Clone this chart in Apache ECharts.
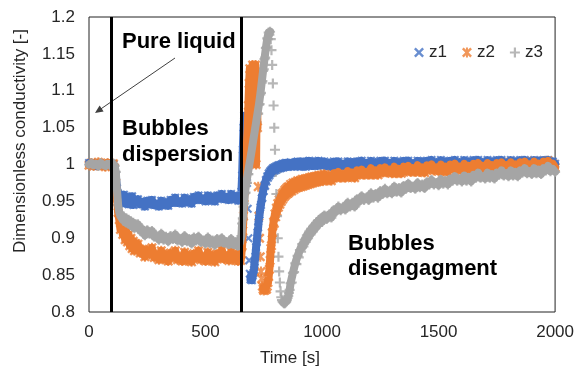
<!DOCTYPE html>
<html><head><meta charset="utf-8">
<script src="https://cdn.jsdelivr.net/npm/echarts@6/dist/echarts.min.js"></script>
<style>html,body{margin:0;padding:0;background:#fff}#c{width:577px;height:376px}</style>
</head><body><div id="c"></div>
<script>
// ---- data ----
const seriesNames = ['z1', 'z2', 'z3'];
const phaseLines = [97, 655];               // vertical phase boundaries [s]
const xTicks = [0, 500, 1000, 1500, 2000];
const yTicks = [0.8, 0.85, 0.9, 0.95, 1, 1.05, 1.1, 1.15, 1.2];

const time = [
  0,10,20,30,40,50,60,70,80,90,100,
  105,110,115,120,125,130,135,140,145,150,
  155,160,165,170,175,180,185,190,195,200,
  210,220,230,240,250,260,270,280,290,300,310,
  320,330,340,350,360,370,380,390,400,410,420,
  430,440,450,460,470,480,490,500,510,520,530,
  540,550,560,570,580,590,600,610,620,630,640,
  648,651,654,657,660,663,666,669,672,675,678,681,
  684,687,690,693,696,699,702,705,708,711,714,717,
  720,723,726,729,732,735,738,741,744,747,750,753,
  756,759,762,765,768,771,774,777,780,783,786,789,
  792,795,798,801,804,807,810,813,816,819,822,825,
  828,831,834,837,840,843,846,849,852,855,858,861,
  865,870,875,880,885,890,895,900,905,910,915,920,925,930,
  935,940,945,950,955,960,965,970,975,980,985,990,995,1000,
  1010,1020,1030,1040,1050,1060,1070,1080,1090,1100,
  1110,1120,1130,1140,1150,1160,1170,1180,1190,1200,
  1210,1220,1230,1240,1250,1260,1270,1280,1290,1300,
  1310,1320,1330,1340,1350,1360,1370,1380,1390,1400,
  1410,1420,1430,1440,1450,1460,1470,1480,1490,1500,
  1510,1520,1530,1540,1550,1560,1570,1580,1590,1600,
  1610,1620,1630,1640,1650,1660,1670,1680,1690,1700,
  1710,1720,1730,1740,1750,1760,1770,1780,1790,1800,
  1810,1820,1830,1840,1850,1860,1870,1880,1890,1900,
  1910,1920,1930,1940,1950,1960,1970,1980,1990,2000
];

const z1 = [
  1.002,0.999,1.001,0.998,1.002,1.000,1.001,0.998,1.000,0.999,1.001,
  1.000,0.996,0.985,0.968,0.960,0.950,0.958,0.948,0.955,0.959,
  0.947,0.953,0.956,0.946,0.954,0.950,0.957,0.945,0.952,0.949,
  0.953,0.946,0.949,0.943,0.951,0.946,0.952,0.945,0.947,0.943,0.951,
  0.945,0.949,0.944,0.952,0.948,0.955,0.948,0.950,0.947,0.955,0.949,
  0.953,0.947,0.956,0.952,0.958,0.952,0.954,0.950,0.958,0.951,0.956,
  0.950,0.958,0.954,0.960,0.953,0.956,0.952,0.960,0.953,0.957,0.951,
  0.958,0.953,0.963,0.985,1.020,1.050,1.066,1.035,1.060,1.015,0.975,0.940,
  0.900,0.870,0.852,0.844,0.850,0.843,0.849,0.853,0.857,0.868,0.875,0.888,
  0.895,0.908,0.915,0.927,0.932,0.942,0.945,0.954,0.955,0.964,0.964,0.972,
  0.971,0.979,0.977,0.984,0.982,0.988,0.985,0.991,0.988,0.993,0.990,0.995,
  0.991,0.996,0.992,0.997,0.993,0.998,0.994,0.999,0.995,0.999,0.995,1.000,
  0.996,1.001,0.996,1.001,0.997,1.002,0.997,1.002,0.997,1.002,0.998,1.002,
  1.003,0.998,1.002,0.997,1.003,0.999,1.004,0.998,1.001,0.997,1.004,0.999,1.002,0.997,
  1.004,0.999,1.005,0.999,1.002,0.998,1.004,1.000,1.003,0.998,1.005,1.000,1.003,0.999,
  1.004,0.998,1.002,0.997,1.004,0.999,1.004,0.998,1.001,0.998,
  1.004,0.999,1.003,0.998,1.004,1.000,1.005,0.999,1.002,0.998,
  1.005,0.999,1.003,0.998,1.005,1.000,1.005,0.999,1.002,0.999,
  1.005,1.000,1.003,0.998,1.005,1.001,1.005,1.000,1.002,0.999,
  1.005,1.000,1.004,0.999,1.005,1.001,1.006,1.000,1.003,0.999,
  1.006,1.000,1.004,0.999,1.005,1.001,1.006,1.000,1.003,0.999,
  1.006,1.000,1.004,0.999,1.006,1.001,1.006,1.000,1.003,1.000,
  1.006,1.001,1.004,0.999,1.006,1.001,1.006,1.001,1.003,1.000,
  1.006,1.001,1.004,1.000,1.006,1.002,1.006,1.001,1.004,1.000,
  1.006,1.001,1.005,1.000,1.006,1.002,1.006,1.001,1.004,1.001
];

const z2 = [
  0.999,1.002,0.998,1.001,1.003,0.999,1.001,0.997,1.002,1.000,0.998,
  1.001,0.995,0.975,0.955,0.935,0.925,0.912,0.920,0.905,0.915,
  0.898,0.910,0.895,0.905,0.890,0.900,0.886,0.896,0.883,0.893,
  0.892,0.880,0.885,0.875,0.884,0.878,0.887,0.874,0.878,0.871,0.883,
  0.872,0.878,0.869,0.880,0.874,0.883,0.871,0.875,0.869,0.881,0.870,
  0.877,0.868,0.879,0.873,0.883,0.871,0.875,0.869,0.881,0.870,0.877,
  0.868,0.879,0.873,0.884,0.872,0.876,0.870,0.882,0.871,0.878,0.869,
  0.877,0.870,0.879,0.890,0.910,0.930,0.955,0.975,0.990,1.010,1.030,1.050,
  1.080,1.110,1.130,1.090,1.125,1.060,1.135,1.020,1.130,1.080,1.135,1.000,
  1.120,1.050,0.970,0.930,0.900,0.875,0.855,0.845,0.835,0.831,0.829,0.832,
  0.830,0.833,0.831,0.835,0.840,0.848,0.858,0.870,0.886,0.890,0.907,0.908,
  0.922,0.920,0.933,0.929,0.941,0.936,0.947,0.942,0.952,0.946,0.956,0.950,
  0.960,0.953,0.962,0.956,0.965,0.958,0.967,0.960,0.969,0.961,0.970,0.963,
  0.973,0.964,0.975,0.966,0.976,0.968,0.978,0.969,0.978,0.970,0.980,0.971,0.980,0.972,
  0.981,0.973,0.982,0.974,0.983,0.975,0.983,0.976,0.984,0.977,0.985,0.977,0.985,0.978,
  0.987,0.978,0.985,0.978,0.988,0.982,0.990,0.982,0.987,0.982,
  0.991,0.983,0.989,0.982,0.992,0.986,0.993,0.986,0.990,0.986,
  0.995,0.986,0.992,0.986,0.995,0.989,0.996,0.989,0.993,0.988,
  0.997,0.988,0.994,0.988,0.997,0.991,0.998,0.990,0.995,0.990,
  0.999,0.990,0.996,0.989,0.999,0.993,1.000,0.992,0.996,0.991,
  1.000,0.991,0.997,0.990,1.000,0.994,1.001,0.993,0.997,0.992,
  1.001,0.992,0.998,0.991,1.001,0.995,1.002,0.994,0.998,0.993,
  1.002,0.993,0.999,0.992,1.002,0.996,1.003,0.995,0.999,0.994,
  1.003,0.994,1.000,0.993,1.003,0.997,1.004,0.996,1.000,0.995,
  1.004,0.995,1.001,0.994,1.004,0.998,1.005,0.997,1.001,0.996
];

const z3 = [
  1.000,1.002,0.999,1.001,0.998,1.002,1.000,0.998,1.001,0.999,1.002,
  1.000,0.998,0.990,0.965,0.945,0.935,0.930,0.930,0.925,0.929,
  0.922,0.927,0.920,0.925,0.918,0.923,0.916,0.921,0.914,0.919,
  0.919,0.910,0.912,0.904,0.911,0.906,0.910,0.902,0.903,0.898,0.906,
  0.898,0.902,0.896,0.903,0.899,0.905,0.897,0.899,0.895,0.903,0.896,
  0.899,0.893,0.901,0.897,0.902,0.895,0.897,0.893,0.901,0.893,0.897,
  0.891,0.899,0.894,0.900,0.893,0.895,0.891,0.899,0.891,0.895,0.889,
  0.894,0.899,0.903,0.920,0.927,0.943,0.947,0.961,0.962,0.975,0.975,0.987,
  0.987,0.998,0.997,1.009,1.009,1.021,1.021,1.033,1.033,1.045,1.045,1.057,
  1.057,1.069,1.069,1.081,1.082,1.095,1.097,1.111,1.113,1.127,1.129,1.143,
  1.145,1.158,1.159,1.171,1.170,1.179,1.176,1.180,1.170,1.155,1.135,1.110,
  1.080,1.050,1.020,0.990,0.960,0.930,0.900,0.875,0.855,0.840,0.828,0.820,
  0.816,0.814,0.813,0.812,0.812,0.813,0.814,0.816,0.819,0.822,0.826,0.830,
  0.839,0.840,0.853,0.854,0.866,0.865,0.876,0.874,0.884,0.882,0.892,0.889,0.898,0.895,
  0.904,0.900,0.909,0.905,0.913,0.909,0.917,0.913,0.921,0.917,0.924,0.920,0.927,0.922,
  0.931,0.926,0.932,0.928,0.938,0.936,0.943,0.938,0.942,0.939,
  0.948,0.943,0.948,0.943,0.953,0.950,0.957,0.952,0.955,0.952,
  0.961,0.955,0.960,0.955,0.964,0.960,0.967,0.961,0.964,0.961,
  0.970,0.963,0.968,0.962,0.971,0.967,0.974,0.968,0.970,0.967,
  0.975,0.969,0.973,0.968,0.976,0.973,0.979,0.973,0.975,0.972,
  0.980,0.974,0.978,0.973,0.981,0.978,0.984,0.978,0.980,0.977,
  0.985,0.978,0.983,0.977,0.986,0.982,0.989,0.982,0.984,0.981,
  0.989,0.982,0.987,0.981,0.989,0.986,0.992,0.985,0.988,0.984,
  0.992,0.985,0.990,0.984,0.992,0.989,0.995,0.988,0.991,0.987,
  0.995,0.988,0.993,0.987,0.995,0.992,0.998,0.991,0.994,0.990
];

// ---- chart ----
const FONT = '"Liberation Sans", Arial, sans-serif';
const colors = ['#4472C4', '#ED7D31', '#A5A5A5'];
const symX = 'path://M0,1.7L1.7,0L5,3.3L8.3,0L10,1.7L6.7,5L10,8.3L8.3,10L5,6.7L1.7,10L0,8.3L3.3,5Z';
const symStar = 'path://M0,1.7L1.7,0L5,3.3L8.3,0L10,1.7L6.7,5L10,8.3L8.3,10L5,6.7L1.7,10L0,8.3L3.3,5ZM4,0H6V10H4Z';
const symPlus = 'path://M3.9,0H6.1V3.9H10V6.1H6.1V10H3.9V6.1H0V3.9H3.9Z';
const symbols = [symX, symStar, symPlus];
const sizes = [9, 10, 10];
const values = [z1, z2, z3];
// time windows where samples were sparse (fast jumps) - drawn as separate markers only
const sparseWindows = [[670, 692], [723, 745], [778, 832]];

const series = [];
seriesNames.forEach((name, k) => {
  const pts = time.map((t, i) => [t, values[k][i]]);
  const w = sparseWindows[k];
  // dense band (many overlapping samples) rendered as a thick stroke through the same points
  series.push({
    name: name + '_band', type: 'line', silent: true, symbol: 'none', smooth: false,
    data: pts.map(p => (p[0] > w[0] && p[0] < w[1]) ? [p[0], null] : p),
    connectNulls: false,
    lineStyle: { color: colors[k], width: 8, join: 'round', cap: 'round' },
    emphasis: { disabled: true }, tooltip: { show: false }
  });
  series.push({
    name, type: 'scatter',
    data: pts,
    symbol: symbols[k], symbolSize: sizes[k],
    itemStyle: { color: colors[k] },
    emphasis: { disabled: true },
    silent: true
  });
});
series[1].markLine = {
  silent: true, symbol: 'none',
  label: { show: false },
  lineStyle: { color: '#000', width: 3, type: 'solid' },
  data: phaseLines.map(v => ({ xAxis: v }))
};

const graphics = [
  { type: 'text', x: 122, y: 42, style: { text: 'Pure liquid', font: 'bold 22px ' + FONT, fill: '#000', align: 'left', verticalAlign: 'middle' } },
  { type: 'text', x: 122, y: 129, style: { text: 'Bubbles', font: 'bold 22px ' + FONT, fill: '#000', align: 'left', verticalAlign: 'middle' } },
  { type: 'text', x: 122, y: 155, style: { text: 'dispersion', font: 'bold 22px ' + FONT, fill: '#000', align: 'left', verticalAlign: 'middle' } },
  { type: 'text', x: 348, y: 244, style: { text: 'Bubbles', font: 'bold 22px ' + FONT, fill: '#000', align: 'left', verticalAlign: 'middle' } },
  { type: 'text', x: 348, y: 269, style: { text: 'disengagment', font: 'bold 22px ' + FONT, fill: '#000', align: 'left', verticalAlign: 'middle' } },
  { type: 'line', shape: { x1: 175, y1: 58, x2: 100, y2: 109.5 }, style: { stroke: '#404040', lineWidth: 1 } },
  { type: 'polygon', shape: { points: [[95, 113], [103.6, 111.4], [99.6, 105.6]] }, style: { fill: '#404040' } },
  { type: 'text', x: 20, y: 141, rotation: Math.PI / 2, style: { text: 'Dimensionless conductivity [-]', font: '17px ' + FONT, fill: '#262626', align: 'center', verticalAlign: 'middle' } },
  { type: 'text', x: 290, y: 358, style: { text: 'Time [s]', font: '17px ' + FONT, fill: '#262626', align: 'center', verticalAlign: 'middle' } }
];
if (z1.length !== time.length || z2.length !== time.length || z3.length !== time.length) {
  graphics.push({ type: 'text', x: 100, y: 200, style: { text: 'LEN ' + time.length + ' ' + z1.length + ' ' + z2.length + ' ' + z3.length, font: 'bold 20px sans-serif', fill: 'red' } });
}

const chart = echarts.init(document.getElementById('c'), null, { renderer: 'canvas' });
chart.setOption({
  animation: false,
  backgroundColor: '#fff',
  textStyle: { fontFamily: FONT },
  grid: { left: 89, right: 20, top: 17, bottom: 64, show: true, borderColor: '#222', borderWidth: 1, backgroundColor: 'transparent' },
  legend: {
    data: seriesNames, left: 414, top: 44, itemWidth: 10, itemHeight: 10, itemGap: 15, padding: 0,
    textStyle: { fontSize: 17, color: '#262626', fontFamily: FONT }
  },
  xAxis: {
    type: 'value', min: xTicks[0], max: xTicks[xTicks.length - 1], interval: xTicks[1] - xTicks[0],
    axisLine: { show: false }, axisTick: { show: false }, splitLine: { show: false },
    axisLabel: { fontSize: 17, color: '#262626', margin: 12, fontFamily: FONT, formatter: v => String(v) }
  },
  yAxis: {
    type: 'value', min: yTicks[0], max: yTicks[yTicks.length - 1], interval: 0.05,
    axisLine: { show: false }, axisTick: { show: false }, splitLine: { show: false },
    axisLabel: { fontSize: 17, color: '#262626', margin: 14, fontFamily: FONT }
  },
  graphic: graphics,
  series
});
</script></body></html>
